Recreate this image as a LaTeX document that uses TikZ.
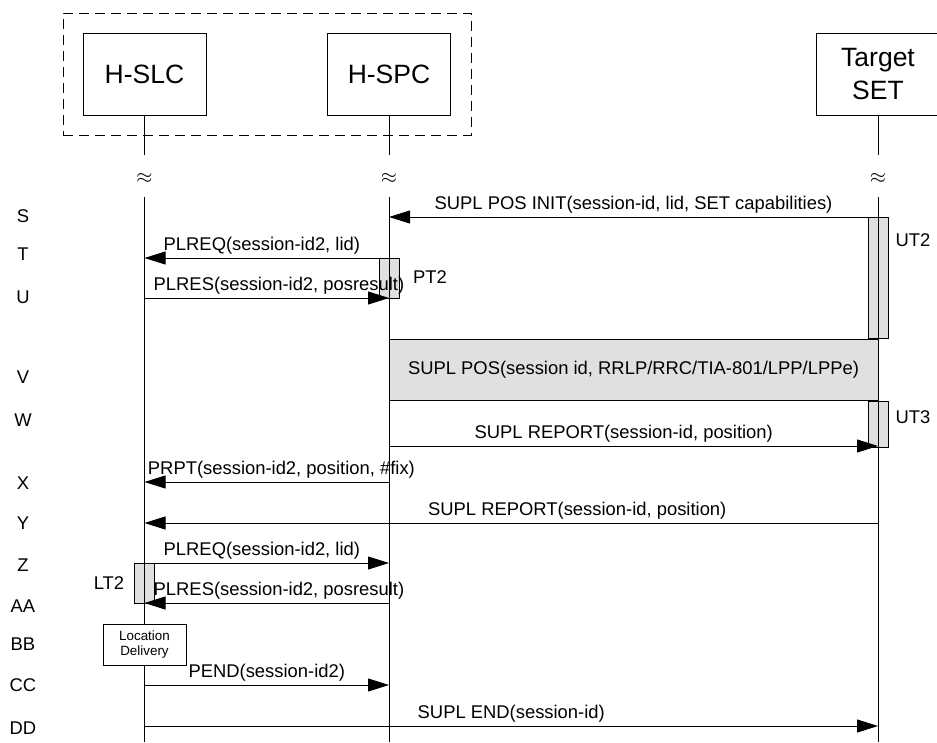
\documentclass[tikz,border=0pt]{standalone}
\usepackage{fontspec}
\setmainfont{Liberation Sans}
\usetikzlibrary{arrows.meta}

\begin{document}
\begin{tikzpicture}[x=1pt,y=-1pt,line width=1pt,>={Triangle[length=21pt,width=13pt]},
    entity/.style={draw,minimum width=123pt,minimum height=82pt,align=center,font=\fontsize{26.5}{33}\selectfont},
    act/.style={draw,fill=black!12,minimum width=20pt,inner sep=0pt},
    txt/.style={font=\fontsize{18.4}{21}\selectfont},
    msg/.style={txt,above,inner sep=3pt}]
  \useasboundingbox (0,0) rectangle (937,742);
  \node[draw,dash pattern=on 10pt off 6pt,minimum width=408pt,minimum height=122pt] (home) at (267,74) {};
  \node[entity] (slc) at (144.5,74) {H-SLC};
  \node[entity] (spc) at (389,74) {H-SPC};
  \node[entity] (set) at (878,74) {Target\\SET};
  \foreach \n/\x in {slc/144.5,spc/389,set/878} {
    \coordinate (\n top) at (\x,155);
    \coordinate (\n mid) at (\x,197);
    \coordinate (\n end) at (\x,742);
    \node[font=\fontsize{20}{22}\selectfont] (\n gap) at (\x,178) {$\approx$};
  }
  \foreach \r/\y in {S/217,T/258,U/298,W/446,X/482,Y/523,Z/563,AA/603,CC/685,DD/726} {
    \coordinate (slc\r) at (144.5,\y);
    \coordinate (spc\r) at (389,\y);
    \coordinate (set\r) at (878,\y);
  }
  \foreach \r/\y in {S/216,T/254,U/297,V/377,W/420,X/483,Y/523,Z/565,AA/606,BB/644,CC/685,DD/728}
    \node[txt] (row\r) at (23,\y) {\r};
  \node[act,minimum height=121pt] (ut2) at (878,277.5) {};
  \node[act,minimum height=40pt] (pt2) at (389,278) {};
  \node[act,minimum height=46pt] (ut3) at (878,424) {};
  \node[act,minimum height=40pt] (lt2) at (144.5,583) {};
  \node[txt] (ut2 lbl) at (913,240) {UT2};
  \node[txt] (pt2 lbl) at (430,277) {PT2};
  \node[txt] (ut3 lbl) at (913,417) {UT3};
  \node[txt] (lt2 lbl) at (109,583) {LT2};
  \foreach \n in {slc,spc,set} {
    \draw (\n) -- (\n top);
    \draw (\n mid) -- (\n end);
  }
  \node[draw,fill=black!12,minimum width=489pt,minimum height=61pt,txt] (suplpos) at (633.5,369.5) {SUPL POS(session id, RRLP/RRC/TIA-801/LPP/LPPe)};
  \node[draw,fill=white,minimum width=83pt,minimum height=41pt,align=center,font=\fontsize{13.4}{15.7}\selectfont] (locdel) at (144.5,644.5) {Location\\Delivery};
  \draw[->] (setS) -- (spcS) node[msg,pos=0.5] {SUPL POS INIT(session-id, lid, SET capabilities)};
  \draw[->] (spcT) -- (slcT) node[msg,pos=0.52] {PLREQ(session-id2, lid)};
  \draw[->] (slcU) -- (spcU) node[msg,pos=0.55] {PLRES(session-id2, posresult)};
  \draw[->] (spcW) -- (setW) node[msg,pos=0.48] {SUPL REPORT(session-id, position)};
  \draw[->] (spcX) -- (slcX) node[msg,pos=0.44] {PRPT(session-id2, position, \#fix)};
  \draw[->] (setY) -- (slcY) node[msg,pos=0.41] {SUPL REPORT(session-id, position)};
  \draw[->] (slcZ) -- (spcZ) node[msg,pos=0.48] {PLREQ(session-id2, lid)};
  \draw[->] (spcAA) -- (slcAA) node[msg,pos=0.45] {PLRES(session-id2, posresult)};
  \draw[->] (slcCC) -- (spcCC) node[msg,pos=0.5] {PEND(session-id2)};
  \draw[->] (slcDD) -- (setDD) node[msg,pos=0.5] {SUPL END(session-id)};
\end{tikzpicture}
\end{document}
